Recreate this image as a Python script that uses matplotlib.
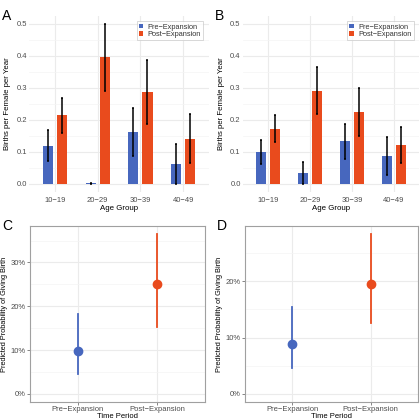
import numpy as np
import matplotlib
matplotlib.use('Agg')
import matplotlib.pyplot as plt
from matplotlib.ticker import FuncFormatter, MultipleLocator

# values
age_groups = ['10\u221219', '20\u221229', '30\u221239', '40\u221249']
series = ['Pre\u2212Expansion', 'Post\u2212Expansion']

# panel A: births per female per year
a_pre = [0.120, 0.002, 0.161, 0.063]
a_pre_lo = [0.073, 0.0, 0.087, 0.0]
a_pre_hi = [0.168, 0.004, 0.236, 0.125]
a_post = [0.214, 0.397, 0.286, 0.142]
a_post_lo = [0.158, 0.292, 0.187, 0.066]
a_post_hi = [0.270, 0.500, 0.386, 0.220]

# panel B
b_pre = [0.100, 0.035, 0.133, 0.087]
b_pre_lo = [0.063, 0.0, 0.077, 0.027]
b_pre_hi = [0.137, 0.070, 0.188, 0.146]
b_post = [0.173, 0.292, 0.226, 0.122]
b_post_lo = [0.132, 0.218, 0.150, 0.065]
b_post_hi = [0.214, 0.366, 0.301, 0.179]

# panels C and D: predicted probability of giving birth
periods = ['Pre\u2212Expansion', 'Post\u2212Expansion']
c_est = [0.097, 0.250]
c_lo = [0.045, 0.153]
c_hi = [0.182, 0.365]
d_est = [0.089, 0.196]
d_lo = [0.047, 0.126]
d_hi = [0.154, 0.284]

blue = '#4767BE'
red = '#E94B1D'
txt = '#4D4D4D'
grid = '#EBEBEB'

plt.rcParams['font.family'] = ['Liberation Sans', 'DejaVu Sans']

fig = plt.figure(figsize=(4.2, 4.2), dpi=100)


def bar_panel(rect, pre, pre_lo, pre_hi, post, post_lo, post_hi, label):
    ax = fig.add_axes(rect)
    x = np.arange(1, len(age_groups) + 1)
    w = 0.24
    off = 0.165
    ax.bar(x - off, pre, w, color=blue, label=series[0], zorder=2)
    ax.bar(x + off, post, w, color=red, label=series[1], zorder=2)
    pre = np.array(pre)
    post = np.array(post)
    ax.errorbar(x - off, pre, yerr=[pre - np.array(pre_lo), np.array(pre_hi) - pre],
                fmt='none', ecolor='black', elinewidth=1.1, capsize=1.0, capthick=1.1, zorder=3)
    ax.errorbar(x + off, post, yerr=[post - np.array(post_lo), np.array(post_hi) - post],
                fmt='none', ecolor='black', elinewidth=1.1, capsize=1.0, capthick=1.1, zorder=3)
    ax.set_xlim(0.4, 4.6)
    ax.set_ylim(-0.025, 0.525)
    ax.set_xticks(x)
    ax.set_xticklabels(age_groups)
    ax.yaxis.set_major_locator(MultipleLocator(0.1))
    ax.yaxis.set_minor_locator(MultipleLocator(0.05))
    ax.yaxis.set_major_formatter(FuncFormatter(lambda v, p: '%.1f' % v))
    ax.grid(which='major', color=grid, linewidth=0.8, zorder=0)
    ax.grid(which='minor', axis='y', color='#F4F4F4', linewidth=0.5, zorder=0)
    for s in ax.spines.values():
        s.set_visible(False)
    ax.tick_params(axis='x', length=0, labelsize=5.5, colors=txt, pad=4)
    ax.tick_params(axis='y', length=0, labelsize=5.5, colors=txt, pad=1.5)
    ax.tick_params(which='minor', length=0)
    ax.set_xlabel('Age Group', fontsize=5.7, labelpad=0.5)
    ax.set_ylabel('Births per Female per Year', fontsize=5.6, labelpad=4)
    leg = ax.legend(loc='upper right', fontsize=5.3, frameon=True, fancybox=False,
                    handlelength=0.6, handleheight=0.6, handletextpad=0.6,
                    borderpad=0.3, labelspacing=0.05, bbox_to_anchor=(0.99, 0.99))
    leg.get_frame().set_edgecolor('#BDBDBD')
    leg.get_frame().set_linewidth(0.5)
    for t in leg.get_texts():
        t.set_color('#333333')
    fig.text(rect[0] - 0.066, rect[1] + rect[3] + 0.0, label, fontsize=10, va='center')
    return ax


def point_panel(rect, est, lo, hi, ymax, yticks, label):
    ax = fig.add_axes(rect)
    x = np.arange(1, len(periods) + 1)
    cols = [blue, red]
    for i in range(len(periods)):
        ax.plot([x[i], x[i]], [lo[i], hi[i]], color=cols[i], linewidth=1.3, zorder=2)
        ax.plot(x[i], est[i], 'o', color=cols[i], markersize=6, zorder=3)
    ax.set_xlim(0.4, 2.6)
    ax.set_ylim(-0.05 * ymax, 1.05 * ymax)
    ax.set_xticks(x)
    ax.set_xticklabels(periods)
    ax.set_yticks(yticks)
    ax.yaxis.set_minor_locator(MultipleLocator(0.05))
    ax.yaxis.set_major_formatter(FuncFormatter(lambda v, p: '%d%%' % round(v * 100)))
    ax.grid(which='major', color=grid, linewidth=0.8, zorder=0)
    ax.grid(which='minor', axis='y', color='#F4F4F4', linewidth=0.5, zorder=0)
    for s in ax.spines.values():
        s.set_color('#A0A0A0')
        s.set_linewidth(0.8)
    ax.tick_params(length=2, width=0.5, color='#555555', labelsize=5.5, colors=txt, pad=1)
    ax.tick_params(which='minor', length=0)
    ax.set_xlabel('Time Period', fontsize=5.5, labelpad=0)
    ax.set_ylabel('Predicted Probability of Giving Birth', fontsize=5.3, labelpad=2)
    fig.text(rect[0] - 0.066, rect[1] + rect[3] + 0.0, label, fontsize=10, va='center')
    return ax


bar_panel([0.070, 0.543, 0.427, 0.419], a_pre, a_pre_lo, a_pre_hi,
          a_post, a_post_lo, a_post_hi, 'A')
bar_panel([0.578, 0.543, 0.420, 0.419], b_pre, b_pre_lo, b_pre_hi,
          b_post, b_post_lo, b_post_hi, 'B')
point_panel([0.071, 0.0429, 0.417, 0.419], c_est, c_lo, c_hi, 0.365,
            [0, 0.1, 0.2, 0.3], 'C')
point_panel([0.583, 0.0429, 0.412, 0.419], d_est, d_lo, d_hi, 0.284,
            [0, 0.1, 0.2], 'D')

plt.savefig('out.png', dpi=100)
